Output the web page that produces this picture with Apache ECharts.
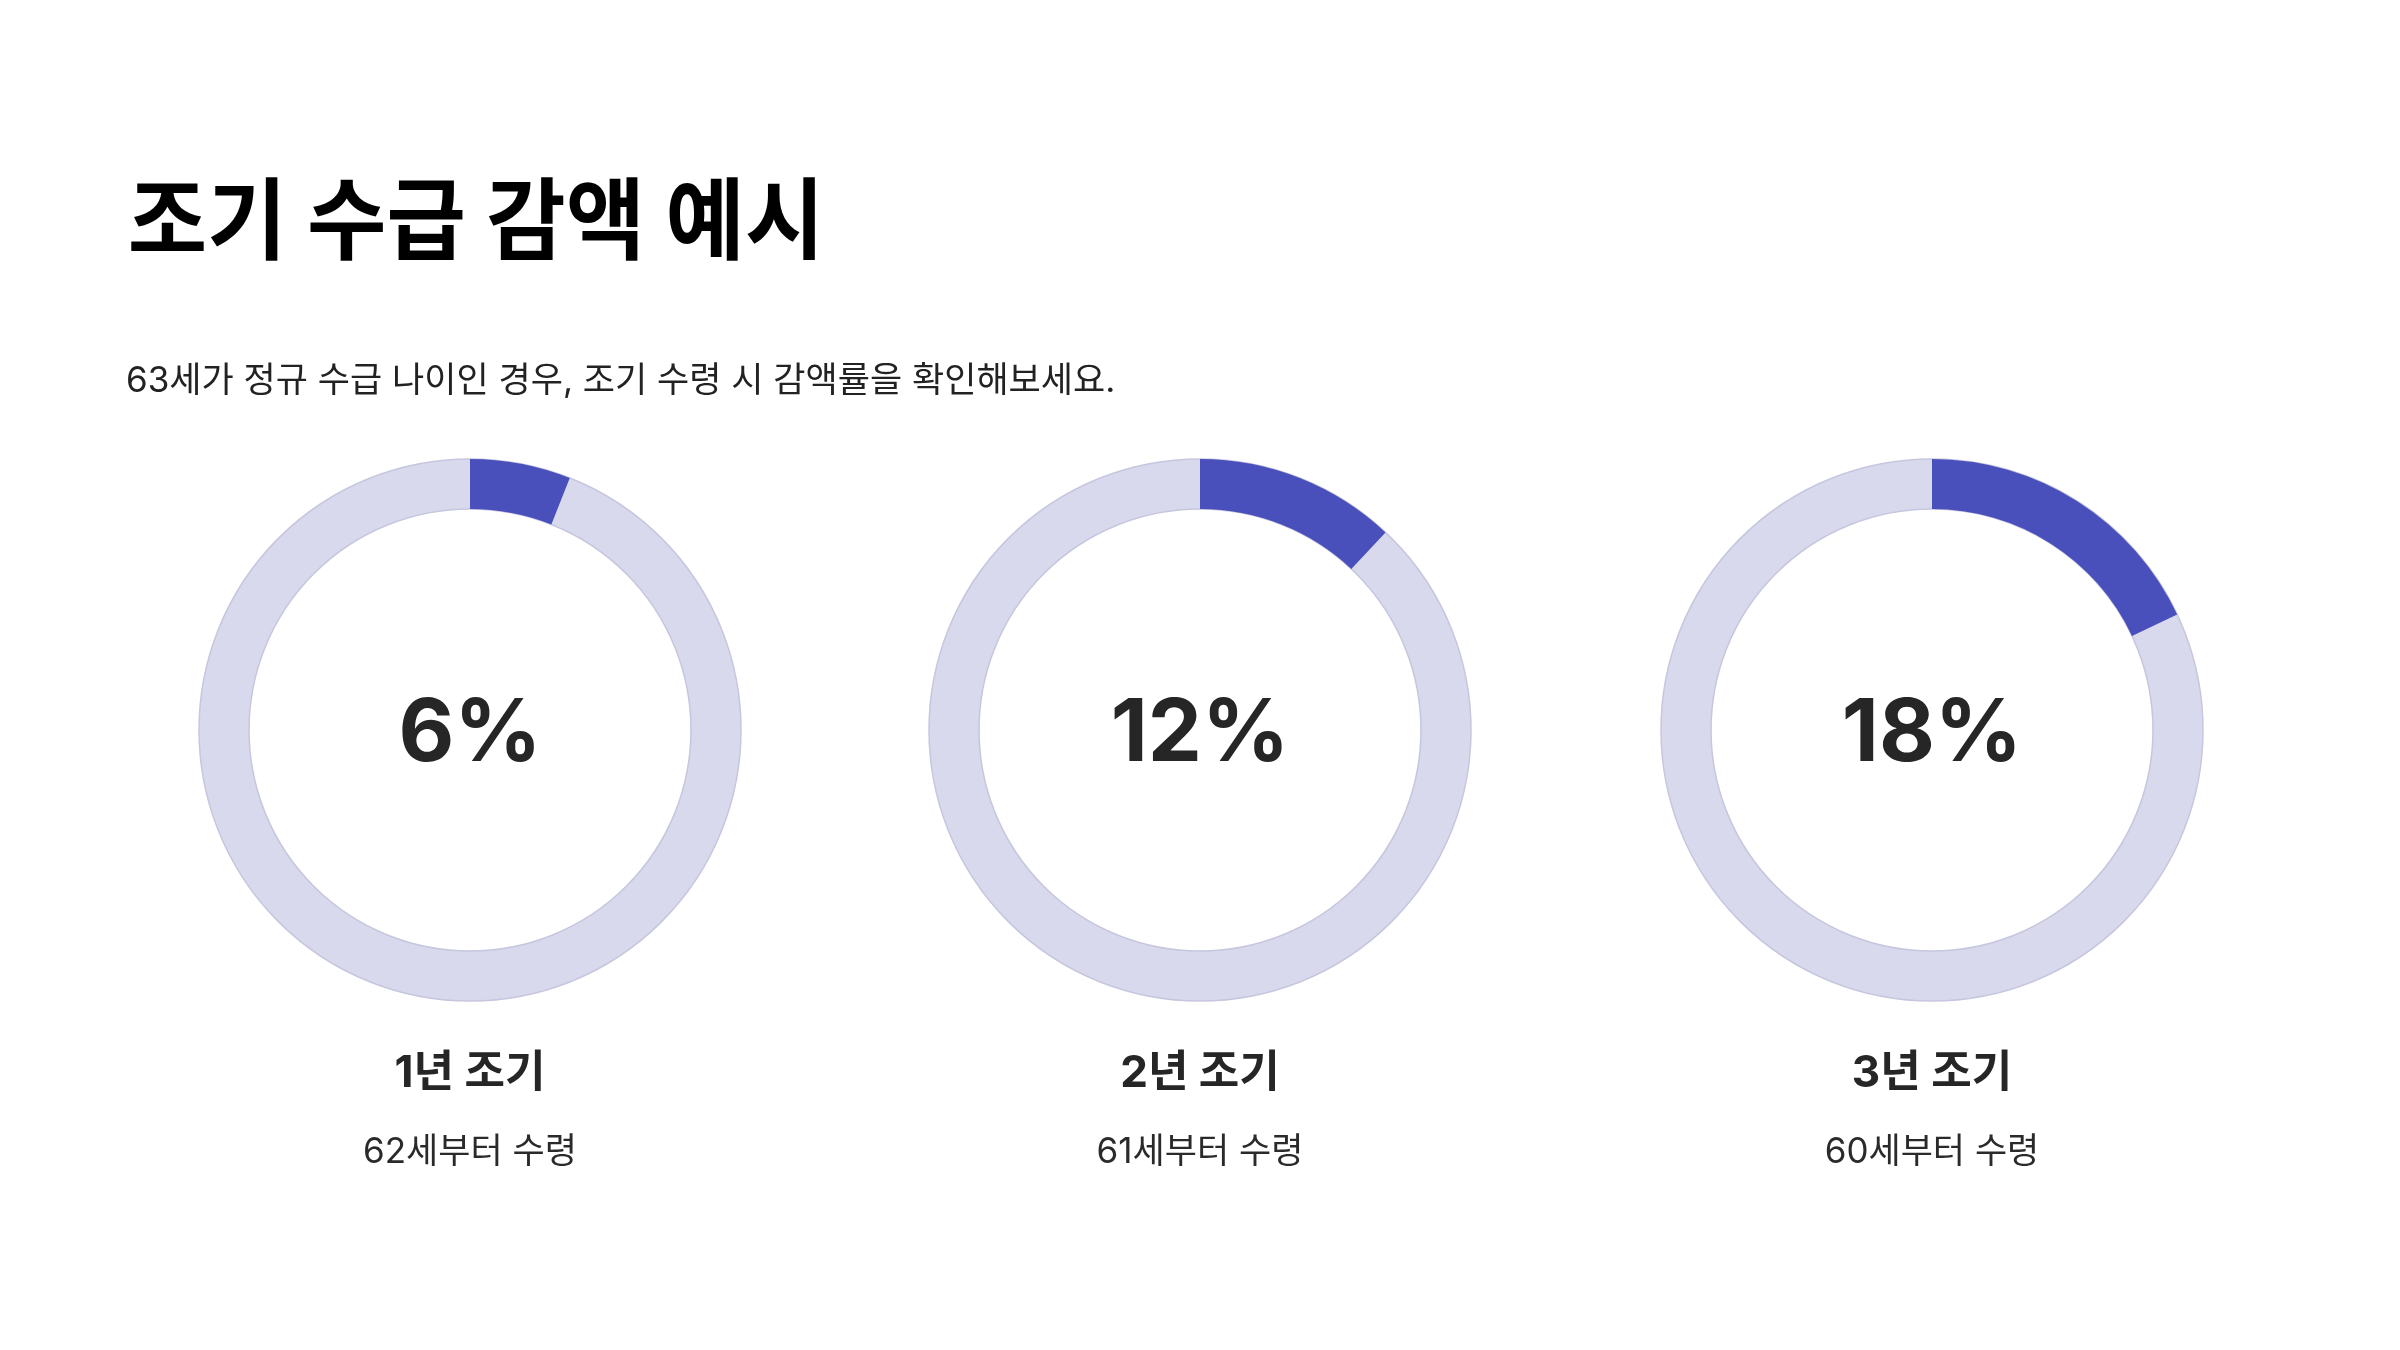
<!DOCTYPE html>
<html><head><meta charset="utf-8">
<script src="https://cdn.jsdelivr.net/npm/echarts@6/dist/echarts.min.js"></script>
<style>html,body{margin:0;padding:0;background:#fff}#c{width:2400px;height:1350px}</style>
</head><body><div id="c"></div>
<script>
const titleText = '조기 수급 감액 예시';
const subtitleText = '63세가 정규 수급 나이인 경우, 조기 수령 시 감액률을 확인해보세요.';
const categories = ['1년 조기', '2년 조기', '3년 조기'];
const subLabels = ['62세부터 수령', '61세부터 수령', '60세부터 수령'];
const reductions = [6, 12, 18];

const FONT = "Inter, 'Noto Sans CJK KR', 'Noto Sans', sans-serif";
const KFONT = "Inter, 'Noto Sans CJK KR', sans-serif";
const centersX = [470, 1200, 1932];
const centerY = 730;
const radius = [221, 271];

const series = [];
const graphics = [
  {type:'text', x: 124, y: 225, scaleX: 0.97, originX: 124, originY: 225,
   style:{text: titleText, font: `bold 89px ${KFONT}`, fill:'#000', textVerticalAlign:'middle'}},
  {type:'text', x: 126, y: 381, style:{text: subtitleText, font: `400 35px ${KFONT}`, fill:'#222', textVerticalAlign:'middle'}}
];
reductions.forEach((v, i) => {
  series.push({
    type:'pie', silent:true, center:[centersX[i], centerY], radius: radius,
    startAngle: 90, z: 1, label:{show:false}, labelLine:{show:false},
    itemStyle:{color:'#d9d9ee', borderColor:'#c6c6de', borderWidth:1.5},
    data:[{value:100}]
  });
  series.push({
    type:'pie', silent:true, center:[centersX[i], centerY], radius: radius,
    startAngle: 90, clockwise: true, z: 2, labelLine:{show:false},
    data:[
      {value: v, itemStyle:{color:'#4a50bb', borderWidth:0},
       label:{show:true, position:'center', formatter: '{p|' + v + '%}',
         rich:{p:{fontFamily: FONT, fontSize: 86, fontWeight: 'bold', color:'#262626', padding:[10,0,0,0]}}}},
      {value: 100 - v, itemStyle:{color:'rgba(0,0,0,0)', borderWidth:0}, label:{show:false}}
    ]
  });
  graphics.push({type:'text', x: centersX[i], y: 1074, style:{text: categories[i], font:`bold 44px ${KFONT}`, fill:'#262626', textAlign:'center', textVerticalAlign:'middle'}});
  graphics.push({type:'text', x: centersX[i], y: 1152, style:{text: subLabels[i], font:`400 35px ${KFONT}`, fill:'#2a2a2a', textAlign:'center', textVerticalAlign:'middle'}});
});

const chart = echarts.init(document.getElementById('c'), null, {renderer:'canvas'});
chart.setOption({backgroundColor:'#fff', animation:false, series: series, graphic: graphics});
</script></body></html>
